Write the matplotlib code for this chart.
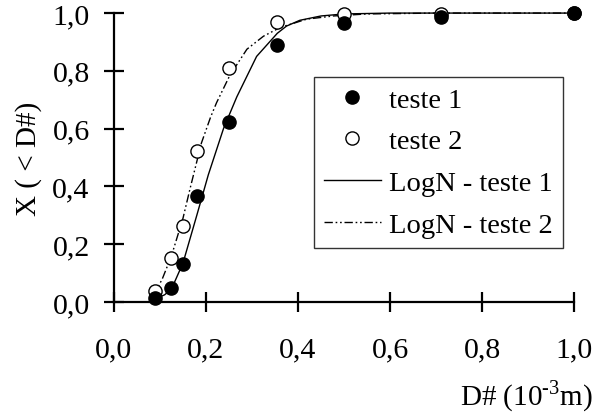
import matplotlib.pyplot as plt

plt.rcParams['font.family'] = 'Liberation Serif'
plt.rcParams['mathtext.fontset'] = 'custom'
plt.rcParams['mathtext.rm'] = 'Liberation Serif'

# sieve openings (10^-3 m) and cumulative fraction passing
d_sieve = [0.090, 0.125, 0.150, 0.180, 0.250, 0.355, 0.500, 0.710, 1.000]
x_teste1 = [0.014, 0.047, 0.131, 0.368, 0.623, 0.888, 0.965, 0.985, 1.000]
x_teste2 = [0.037, 0.151, 0.264, 0.521, 0.810, 0.970, 0.998, 0.998, 1.000]

# fitted log-normal curves
d_fit1 = [0.089, 0.110, 0.125, 0.150, 0.180, 0.205, 0.238, 0.267, 0.310, 0.355,
          0.375, 0.404, 0.450, 0.500, 0.600, 0.800, 1.000]
x_fit1 = [0.010, 0.025, 0.045, 0.135, 0.300, 0.440, 0.600, 0.710, 0.850, 0.930,
          0.955, 0.975, 0.990, 0.997, 1.000, 1.000, 1.000]
d_fit2 = [0.085, 0.105, 0.125, 0.150, 0.165, 0.190, 0.210, 0.223, 0.252, 0.289,
          0.325, 0.361, 0.419, 0.477, 0.550, 0.700, 1.000]
x_fit2 = [0.020, 0.080, 0.160, 0.290, 0.390, 0.550, 0.640, 0.690, 0.785, 0.875,
          0.920, 0.950, 0.979, 0.990, 0.997, 1.000, 1.000]

fig = plt.figure(figsize=(6.05, 4.14), dpi=100)
ax = fig.add_axes([0.1884, 0.268, 0.7604, 0.698])

ax.plot(d_sieve, x_teste1, 'o', color='black', ms=9.5, clip_on=False,
        zorder=4, label='teste 1')
ax.plot(d_sieve, x_teste2, 'o', mfc='white', mec='black', mew=1.0, ms=9.5,
        clip_on=False, zorder=3, label='teste 2')
ax.plot(d_fit1, x_fit1, '-', color='black', lw=1.0, clip_on=False,
        label='LogN - teste 1')
ax.plot(d_fit2, x_fit2, color='black', lw=1.0, dashes=(6, 2, 1.2, 2, 1.2, 2),
        clip_on=False, label='LogN - teste 2')

ax.set_xlim(0, 1.0)
ax.set_ylim(0, 1.0)
ticks = [0.0, 0.2, 0.4, 0.6, 0.8, 1.0]
ax.set_xticks(ticks)
ax.set_yticks(ticks)
ax.set_xticklabels([f'{t:.1f}'.replace('.', ',') for t in ticks])
ax.set_yticklabels([f'{t:.1f}'.replace('.', ',') for t in ticks])
for s in ['top', 'right']:
    ax.spines[s].set_visible(False)
for s in ['left', 'bottom']:
    ax.spines[s].set_linewidth(1.6)
ax.tick_params(direction='inout', length=15, width=1.6, labelsize=21.5)
ax.tick_params(axis='x', pad=17)
ax.tick_params(axis='y', pad=10)

ax.set_ylabel('X ( < D#)', fontsize=21)
ax.yaxis.set_label_coords(-0.157, 0.5)
fig.text(0.98, 0.023, r'D# (10$^{\text{-3}}$m)', fontsize=21,
         ha='right', va='baseline')

leg = ax.legend(loc='upper right', bbox_to_anchor=(0.976, 0.779),
                borderaxespad=0, fontsize=20.5, frameon=True, fancybox=False,
                edgecolor='black', labelspacing=0.55, handlelength=2.0,
                handletextpad=0.3, borderpad=0.35)
leg.get_frame().set_linewidth(1.0)

plt.savefig('out.png', dpi=100)
plt.close(fig)
